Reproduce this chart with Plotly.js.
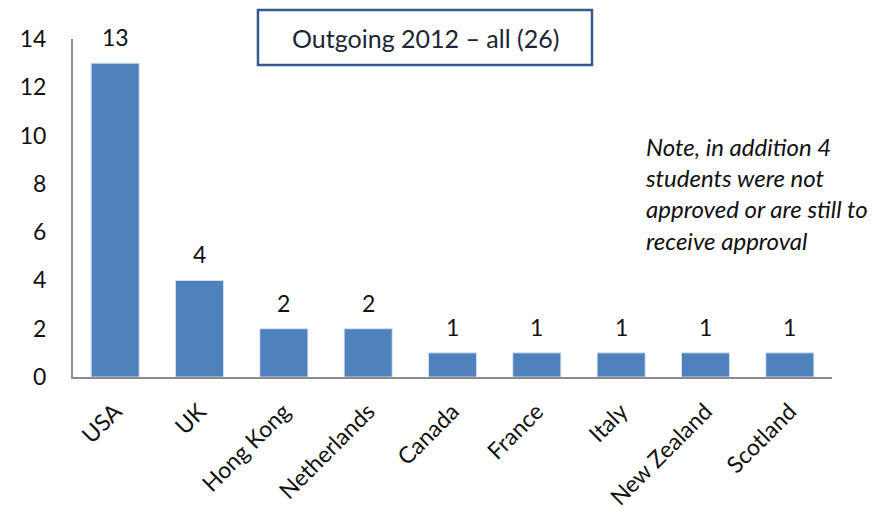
<!DOCTYPE html>
<html>
<head>
<meta charset="utf-8">
<script src="https://cdn.plot.ly/plotly-3.0.1.min.js"></script>
<style>html,body{margin:0;padding:0;background:#fff;}#chart{width:894px;height:515px;}</style>
</head>
<body>
<div id="chart"></div>
<script>
var countries = ["USA", "UK", "Hong Kong", "Netherlands", "Canada", "France", "Italy", "New Zealand", "Scotland"];
var students = [13, 4, 2, 2, 1, 1, 1, 1, 1];
var yTicks = [0, 2, 4, 6, 8, 10, 12, 14];
var titleText = "Outgoing 2012 \u2013 all (26)";
var noteLines = ["Note, in addition 4", "students were not", "approved or are still to", "receive approval"];

var FONT = "Lato, 'Open Sans', sans-serif";
var TXT = "#111111";

var annotations = countries.map(function (c, i) {
  return {
    x: c, y: students[i], xref: "x", yref: "y",
    text: String(students[i]), showarrow: false,
    yanchor: "bottom", yshift: 10,
    font: {family: FONT, size: 23, color: TXT}
  };
});

annotations.push({
  xref: "paper", yref: "paper", x: 0.4638, y: 1.003, yanchor: "middle", xanchor: "center",
  text: titleText, showarrow: false,
  font: {family: FONT, size: 25, color: "#1c2636"}
});

annotations.push({
  xref: "paper", yref: "paper", x: 0.751, y: 0.544, xanchor: "left", yanchor: "middle", align: "left",
  text: "<i>" + noteLines.join("<br>") + "</i>", showarrow: false,
  font: {family: FONT, size: 24, color: TXT}
});

var data = [{
  type: "bar",
  x: countries,
  y: students,
  marker: {color: "#4f81bd", line: {color: "rgba(220,230,242,0.9)", width: 1}},
  hoverinfo: "x+y"
}];

var layout = {
  width: 894, height: 515,
  margin: {l: 73, r: 62, t: 39, b: 138},
  paper_bgcolor: "#ffffff", plot_bgcolor: "#ffffff",
  showlegend: false,
  bargap: 0.43,
  xaxis: {
    type: "category",
    tickangle: -45,
    showline: true, linecolor: "#8c8c8c", linewidth: 2,
    ticks: "", showgrid: false, zeroline: false,
    tickfont: {family: FONT, size: 23, color: TXT},
    ticklabelstandoff: 10
  },
  yaxis: {
    range: [0, 14],
    tickvals: yTicks,
    showline: true, linecolor: "#8c8c8c", linewidth: 2,
    ticks: "", showgrid: false, zeroline: false,
    tickfont: {family: FONT, size: 23, color: TXT},
    ticklabelstandoff: 20
  },
  shapes: [{
    type: "rect", xref: "paper", yref: "paper",
    x0: 0.2437, x1: 0.6838, y0: 0.923, y1: 1.0858,
    line: {color: "#375a8c", width: 2.5},
    fillcolor: "rgba(255,255,255,0)"
  }],
  annotations: annotations
};

Plotly.newPlot("chart", data, layout, {displayModeBar: false, staticPlot: true});
</script>
</body>
</html>
